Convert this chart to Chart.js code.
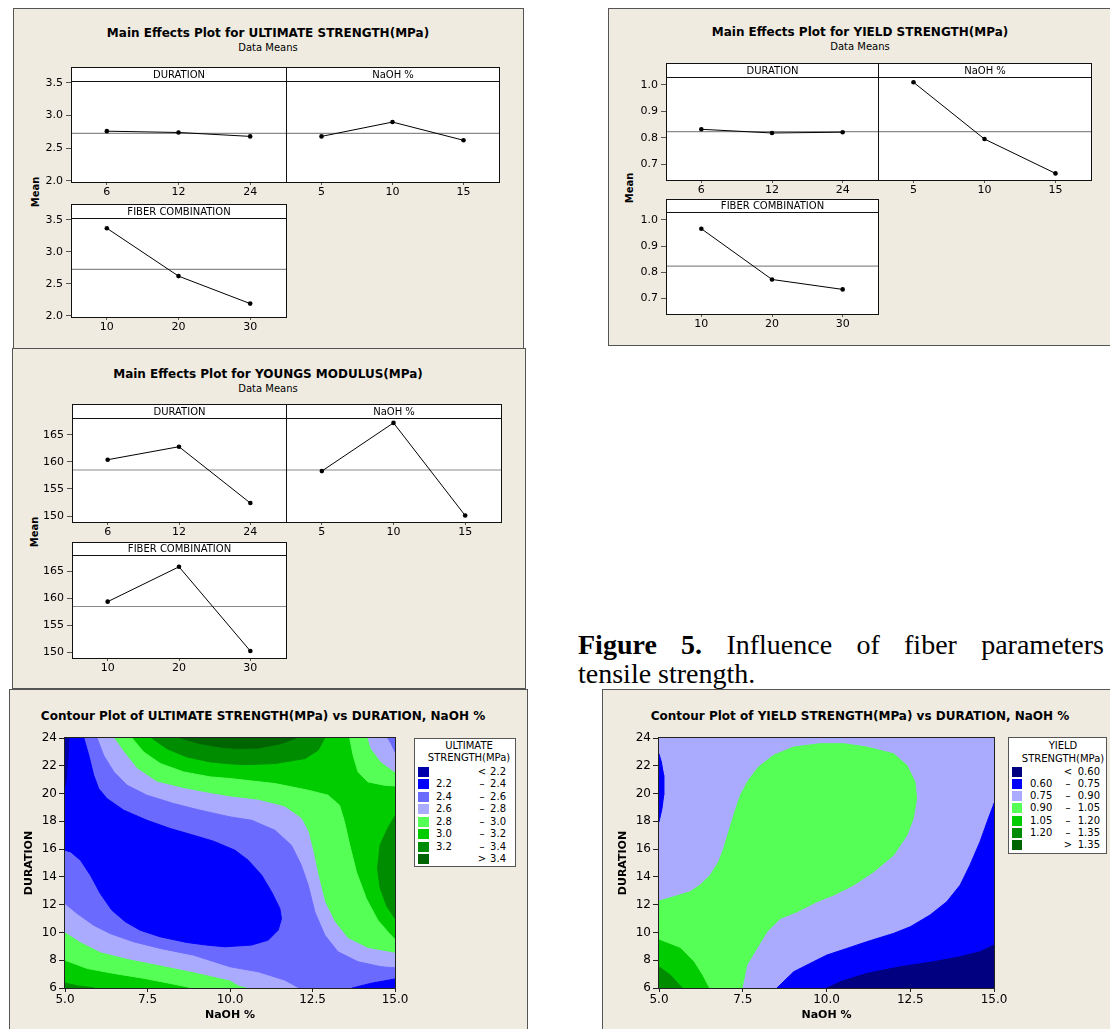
<!DOCTYPE html>
<html>
<head>
<meta charset="utf-8">
<script src="https://cdn.jsdelivr.net/npm/chart.js@4.4.1/dist/chart.umd.min.js"></script>
<style>
  body { margin: 0; width: 1110px; height: 1029px; position: relative; overflow: hidden; background: #fff;
         font-family: "DejaVu Sans", Verdana, sans-serif; color: #000; }
  .panel { position: absolute; background: #EFEBE1; border: 1px solid #555; box-sizing: border-box; }
  .ttl { position: absolute; font-size: 12px; line-height: 14px; font-weight: bold; white-space: nowrap; transform: translateX(-50%); }
  .sub { position: absolute; font-size: 10px; line-height: 12px; white-space: nowrap; transform: translateX(-50%); }
  .ylab { position: absolute; font-size: 10px; line-height: 12px; font-weight: bold; white-space: nowrap;
          transform: translate(-50%, -50%) rotate(-90deg); }
  .legend { position: absolute; background: #fff; border: 1px solid #555; box-sizing: border-box; font-size: 10px; }
  .legend div { position: absolute; line-height: 12px; white-space: nowrap; }
  .cap { position: absolute; font-family: "Liberation Serif", "Times New Roman", serif; font-size: 28px; line-height: 32px; white-space: nowrap; }
</style>
</head>
<body>
<script>
// main effects: level labels
const durationLevels = ['6', '12', '24'];
const naohLevels = ['5', '10', '15'];
const fiberLevels = ['10', '20', '30'];

// ultimate strength means
const ultDuration = [2.76, 2.74, 2.68];
const ultNaoh = [2.68, 2.90, 2.62];
const ultFiber = [3.37, 2.62, 2.19];
const ultMean = 2.727;
const ultTicks = [2.0, 2.5, 3.0, 3.5];

// yield strength means
const yldDuration = [0.832, 0.818, 0.821];
const yldNaoh = [1.01, 0.795, 0.665];
const yldFiber = [0.966, 0.772, 0.734];
const yldMean = 0.823;
const yldTicks = [0.7, 0.8, 0.9, 1.0];

// youngs modulus means
const ymDuration = [160.4, 162.8, 152.4];
const ymNaoh = [158.3, 167.2, 150.1];
const ymFiber = [159.4, 165.9, 150.2];
const ymMean = 158.5;
const ymTicks = [150, 155, 160, 165];

// contour axes
const naohTicks = [5, 7.5, 10, 12.5, 15];
const durTicks = [6, 8, 10, 12, 14, 16, 18, 20, 22, 24];
const plotRect = [[5, 6], [15, 6], [15, 24], [5, 24]];

// ultimate strength contour levels and regions (NaOH %, DURATION)
const ultLevels = [2.2, 2.4, 2.6, 2.8, 3.0, 3.2, 3.4];
const ultTopHigh = [[7.63, 24], [8.09, 23.23], [8.69, 22.64], [9.4, 22.28], [10.0, 22.14], [10.45, 22.08], [11.36, 22.16], [12.27, 22.52], [12.67, 23.12], [12.87, 24]];
const ultTopPeak = [[8.49, 24], [9.09, 23.6], [9.7, 23.35], [10.2, 23.25], [10.86, 23.28], [11.56, 23.6], [12.01, 24]];
const ultRightHigh = [[15, 18.4], [14.78, 17.5], [14.55, 16.3], [14.47, 14.6], [14.55, 13.2], [14.75, 11.9], [15, 11.0]];
const ultCornerHigh = [[5, 6], [5, 6.35], [5.4, 6.15], [5.9, 6]];
const ultBelow30 = [[5, 24], [7.03, 24], [7.38, 23.0], [7.89, 22.16], [8.59, 21.56], [9.4, 21.2], [10.0, 21.08], [11.36, 20.72], [12.37, 20.24], [12.97, 19.88], [13.32, 19.16], [13.47, 17.96], [13.63, 16.28], [13.83, 14.36], [14.13, 12.44], [14.48, 10.88], [14.83, 9.92], [15, 9.5], [15, 6], [8.8, 6], [8.69, 6.09], [8.19, 6.33], [7.38, 6.7], [6.48, 7.05], [5.67, 7.41], [5, 8.0]];
const ultCorner30 = [[13.63, 24], [13.73, 22.76], [13.88, 21.56], [14.18, 20.84], [14.68, 20.6], [15, 20.55], [15, 24]];
const ultBelow28 = [[5, 24], [6.48, 24], [6.78, 23.0], [7.18, 21.8], [7.78, 20.84], [8.59, 20.36], [9.4, 20.0], [10.0, 19.76], [10.86, 19.52], [11.66, 19.04], [12.16, 18.2], [12.37, 17.24], [12.52, 15.8], [12.67, 14.12], [12.87, 12.2], [13.17, 10.77], [13.57, 9.57], [14.18, 8.85], [15, 8.5], [15, 6], [10.6, 6], [10.25, 6.21], [10.0, 6.57], [8.89, 7.17], [7.89, 7.65], [6.88, 8.13], [6.07, 8.61], [5.47, 9.33], [5, 10.04]];
const ultCorner28 = [[14.18, 24], [14.28, 23.23], [14.58, 22.28], [15, 21.56], [15, 24]];
const ultBelow26 = [[5, 24], [5.97, 24], [6.17, 22.76], [6.48, 21.56], [6.88, 20.6], [7.48, 19.88], [8.29, 19.28], [9.09, 18.8], [10.0, 18.32], [10.65, 18.08], [11.36, 17.36], [11.86, 16.28], [12.16, 14.84], [12.37, 13.4], [12.57, 11.48], [12.87, 9.81], [13.27, 8.61], [13.88, 7.89], [14.58, 7.53], [15, 7.45], [15, 6], [12.1, 6], [11.66, 6.57], [10.86, 7.17], [10.0, 7.53], [8.89, 8.37], [7.89, 8.85], [7.08, 9.33], [6.37, 9.92], [5.87, 10.52], [5.37, 11.36], [5, 12.08]];
const ultCorner26 = [[14.78, 24], [14.88, 23.6], [15, 23.0], [15, 24]];
const ultCore = [[5, 24], [5.57, 24], [5.72, 22.76], [5.87, 21.32], [6.02, 20.36], [6.27, 19.64], [6.78, 18.8], [7.48, 18.08], [8.19, 17.48], [8.89, 17.0], [9.5, 16.57], [10.15, 15.92], [10.55, 15.2], [10.96, 14.12], [11.26, 12.92], [11.51, 11.72], [11.56, 11.0], [11.46, 10.17], [11.16, 9.45], [10.65, 9.09], [9.85, 8.97], [9.29, 9.09], [8.69, 9.28], [7.88, 9.69], [7.28, 10.16], [6.83, 10.77], [6.42, 11.6], [6.07, 12.8], [5.77, 14.12], [5.47, 15.2], [5.17, 15.8], [5, 15.92]];
const ultCornerLow = [[13.7, 6], [14.3, 6.35], [15, 6.65], [15, 6]];
const ultLowest = [[5, 24], [5.12, 24], [5.09, 22.5], [5.04, 21.0], [5, 20.5]];

// yield strength contour levels and regions
const yldLevels = [0.60, 0.75, 0.90, 1.05, 1.20, 1.35];
const yldGreen = [[5, 12.26], [5.44, 12.57], [5.93, 12.93], [6.23, 13.41], [6.53, 14.12], [6.78, 15.08], [6.93, 16.04], [7.08, 17.24], [7.23, 18.44], [7.43, 19.88], [7.67, 20.96], [7.97, 21.91], [8.42, 22.75], [9.02, 23.35], [9.81, 23.59], [10.51, 23.59], [11.2, 23.35], [12.0, 22.87], [12.4, 22.03], [12.64, 20.84], [12.69, 19.64], [12.59, 18.2], [12.4, 17.0], [12.0, 15.56], [11.4, 14.36], [10.81, 13.41], [10.21, 12.69], [9.71, 12.21], [9.12, 11.49], [8.62, 11.01], [8.22, 10.05], [7.92, 8.85], [7.62, 7.65], [7.48, 6], [5, 6]];
const yldGreen105 = [[5, 9.45], [5.64, 8.85], [6.03, 7.89], [6.28, 6.93], [6.48, 6], [5, 6]];
const yldGreen120 = [[5, 7.53], [5.34, 6.93], [5.69, 6], [5, 6]];
const yldBlueLeft = [[5, 22.87], [5.07, 22.27], [5.14, 21.32], [5.14, 19.88], [5.09, 18.92], [5, 17.96]];
const yldBlueRight = [[8.52, 6], [9.02, 7.17], [9.61, 7.89], [10.01, 8.37], [10.61, 8.85], [11.2, 9.33], [12.0, 9.93], [12.5, 10.41], [13.09, 11.25], [13.59, 12.21], [13.99, 13.41], [14.28, 14.84], [14.58, 16.52], [14.83, 18.2], [15, 19.28], [15, 6]];
const yldLowest = [[10.01, 6], [10.41, 6.45], [11.2, 7.05], [12.2, 7.53], [13.19, 7.89], [13.99, 8.25], [14.58, 8.61], [15, 9.09], [15, 6]];

// palettes
const ultColors = ['#0000AA', '#0000FF', '#6A6AFF', '#AAAAFF', '#55FF55', '#00CC00', '#008C00', '#006400'];
const yldColors = ['#000080', '#0000FF', '#AAAAFF', '#55FF55', '#00CC00', '#008C00', '#006400'];

const FONT = '"DejaVu Sans", Verdana, sans-serif';
Chart.defaults.font.family = FONT;
Chart.defaults.color = '#000';

function addEl(cls, html, css) {
  const d = document.createElement('div');
  d.className = cls;
  d.innerHTML = html;
  d.style.cssText = css;
  document.body.appendChild(d);
  return d;
}

function addCanvas(left, top, w, h) {
  const c = document.createElement('canvas');
  c.width = w; c.height = h;
  c.style.cssText = `position:absolute;left:${left}px;top:${top}px;width:${w}px;height:${h}px`;
  document.body.appendChild(c);
  return c;
}

// white plot box + header strip, like the minitab panels
const facetFrame = {
  id: 'facetFrame',
  beforeDraw(chart, args, o) {
    const { ctx, chartArea: a } = chart;
    ctx.save();
    ctx.fillStyle = '#fff';
    ctx.fillRect(a.left, a.top - o.strip, a.right - a.left + 1, a.bottom - a.top + o.strip + 1);
    ctx.restore();
  },
  afterDraw(chart, args, o) {
    const { ctx, chartArea: a } = chart;
    ctx.save();
    ctx.strokeStyle = '#111';
    ctx.lineWidth = 1;
    ctx.strokeRect(a.left + 0.5, a.top - o.strip + 0.5, a.right - a.left, a.bottom - a.top + o.strip);
    ctx.beginPath();
    ctx.moveTo(a.left, a.top + 0.5);
    ctx.lineTo(a.right + 1, a.top + 0.5);
    ctx.stroke();
    ctx.fillStyle = '#000';
    ctx.font = '10px ' + FONT;
    ctx.textAlign = 'center';
    ctx.textBaseline = 'middle';
    ctx.fillText(o.text, (a.left + a.right) / 2 + 0.5, a.top - o.strip / 2 + 1);
    ctx.restore();
  }
};

const contourFrame = {
  id: 'contourFrame',
  afterDatasetsDraw(chart) {
    const { ctx, chartArea: a } = chart;
    ctx.save();
    ctx.strokeStyle = '#222';
    ctx.lineWidth = 1;
    ctx.strokeRect(a.left - 0.5, a.top - 0.5, a.right - a.left + 1, a.bottom - a.top + 1);
    ctx.restore();
  }
};

function facet(p) {
  const AX = 40, XH = 20, PAD = 4;
  const w = p.right - p.left, sh = p.stripBottom - p.stripTop, ph = p.bottom - p.stripBottom;
  const cv = addCanvas(p.left - AX, p.stripTop, AX + w + PAD, sh + ph + XH);
  const n = p.cats.length;
  new Chart(cv, {
    type: 'line',
    data: {
      datasets: [
        { data: p.values.map((v, i) => ({ x: i, y: v })), borderColor: '#000', borderWidth: 1,
          pointRadius: 2.3, pointBackgroundColor: '#000', pointBorderWidth: 0, order: 0 },
        { data: [{ x: -0.5, y: p.mean }, { x: n - 0.5, y: p.mean }], borderColor: '#8a8a8a',
          borderWidth: 1.2, pointRadius: 0, order: 1 }
      ]
    },
    options: {
      responsive: false, animation: false, events: [],
      layout: { padding: { top: sh, right: PAD } },
      plugins: { legend: { display: false }, tooltip: { enabled: false }, facetFrame: { strip: sh, text: p.label } },
      scales: {
        x: {
          type: 'linear', min: -0.5, max: n - 0.5,
          afterBuildTicks: s => { s.ticks = p.cats.map((c, i) => ({ value: i })); },
          ticks: { callback: v => p.cats[v], font: { size: 11 }, padding: 1, maxRotation: 0, autoSkip: false },
          grid: { drawOnChartArea: false, tickLength: 3, color: '#555' },
          border: { display: false },
          afterFit: s => { s.height = XH; }
        },
        y: {
          min: p.yMin, max: p.yMax,
          afterBuildTicks: s => { s.ticks = p.yTicks.map(v => ({ value: v })); },
          ticks: { display: p.showY, callback: v => v.toFixed(p.dec), font: { size: 11 }, padding: 3 },
          grid: { display: p.showY, drawOnChartArea: false, tickLength: 5, color: '#555' },
          border: { display: false },
          afterFit: s => { s.width = AX; }
        }
      }
    },
    plugins: [facetFrame]
  });
}

function mainEffects(cfg) {
  addEl('panel', '', `left:${cfg.box[0]}px;top:${cfg.box[1]}px;width:${cfg.box[2]}px;height:${cfg.box[3]}px`);
  addEl('ttl', cfg.title, `left:${cfg.cx}px;top:${cfg.titleTop}px`);
  addEl('sub', 'Data Means', `left:${cfg.cx}px;top:${cfg.titleTop + 16}px`);
  addEl('ylab', 'Mean', `left:${cfg.mean[0]}px;top:${cfg.mean[1]}px`);
  const common = { yMin: cfg.yMin, yMax: cfg.yMax, yTicks: cfg.yTicks, dec: cfg.dec, mean: cfg.grand };
  const [r1, r2] = cfg.rows;
  facet({ ...common, ...r1, left: cfg.cols[0], right: cfg.cols[1], label: 'DURATION', cats: durationLevels, values: cfg.vals[0], showY: true });
  facet({ ...common, ...r1, left: cfg.cols[1], right: cfg.cols[2], label: 'NaOH %', cats: naohLevels, values: cfg.vals[1], showY: false });
  facet({ ...common, ...r2, left: cfg.cols[0], right: cfg.cols[1], label: 'FIBER COMBINATION', cats: fiberLevels, values: cfg.vals[2], showY: true });
}

function contour(cfg) {
  addEl('panel', '', `left:${cfg.box[0]}px;top:${cfg.box[1]}px;width:${cfg.box[2]}px;height:${cfg.box[3]}px`);
  addEl('ttl', cfg.title, `left:${cfg.cx}px;top:${cfg.titleTop}px`);
  const AX = 42, XH = 34, PT = 10, PR = 16;
  const p = cfg.plot;
  const cv = addCanvas(p.left - AX, p.top - PT, AX + (p.right - p.left) + PR, PT + (p.bottom - p.top) + XH);
  const n = cfg.layers.length;
  new Chart(cv, {
    type: 'line',
    data: {
      datasets: cfg.layers.map((L, i) => ({
        data: L[0].map(([x, y]) => ({ x, y })),
        fill: 'shape', backgroundColor: cfg.colors[L[1]], borderColor: cfg.colors[L[1]],
        borderWidth: 1, pointRadius: 0, tension: 0, order: n - i
      }))
    },
    options: {
      responsive: false, animation: false, events: [],
      layout: { padding: { top: PT, right: PR } },
      plugins: { legend: { display: false }, tooltip: { enabled: false } },
      scales: {
        x: {
          type: 'linear', min: 5, max: 15,
          afterBuildTicks: s => { s.ticks = naohTicks.map(v => ({ value: v })); },
          ticks: { callback: v => v.toFixed(1), font: { size: 12 }, padding: 1, maxRotation: 0, autoSkip: false },
          grid: { drawOnChartArea: false, tickLength: 4, color: '#222' },
          border: { display: false },
          title: { display: true, text: 'NaOH %', font: { size: 11, weight: 'bold' }, padding: 0 },
          afterFit: s => { s.height = XH; }
        },
        y: {
          min: 6, max: 24,
          afterBuildTicks: s => { s.ticks = durTicks.map(v => ({ value: v })); },
          ticks: { font: { size: 12 }, padding: 2, autoSkip: false },
          grid: { drawOnChartArea: false, tickLength: 6, color: '#222' },
          border: { display: false },
          title: { display: true, text: 'DURATION', font: { size: 11, weight: 'bold' }, padding: 0 },
          afterFit: s => { s.width = AX; }
        }
      }
    },
    plugins: [contourFrame]
  });

  // legend box
  const g = cfg.legend;
  const lg = addEl('legend', '', `left:${g.box[0]}px;top:${g.box[1]}px;width:${g.box[2]}px;height:${g.box[3]}px`);
  let html = '';
  g.title.forEach((t, i) => {
    html += `<div style="left:${g.titleShift}px;right:0;text-align:center;top:${g.titleTops[i]}px">${t}</div>`;
  });
  const lv = cfg.levels, cols = cfg.colors;
  cols.forEach((c, i) => {
    const cy = g.row0 + i * g.rowGap;
    const lo = (i === 0 || i === cols.length - 1) ? '' : lv[i - 1].toFixed(g.dec);
    const sym = i === 0 ? '&lt;' : (i === cols.length - 1 ? '&gt;' : '–');
    const hi = i === cols.length - 1 ? lv[lv.length - 1].toFixed(g.dec) : lv[i].toFixed(g.dec);
    html += `<div style="left:3px;top:${cy - 5}px;width:${g.sw}px;height:10px;background:${c}"></div>`;
    html += `<div style="left:21px;top:${cy - 6}px">${lo}</div>`;
    html += `<div style="left:${g.symX - 10}px;width:20px;text-align:center;top:${cy - 6}px">${sym}</div>`;
    html += `<div style="right:${g.hiRight}px;top:${cy - 6}px">${hi}</div>`;
  });
  lg.innerHTML = html;
}

mainEffects({
  box: [13, 8, 511, 341], cx: 268, titleTop: 26, mean: [36, 192],
  title: 'Main Effects Plot for ULTIMATE STRENGTH(MPa)',
  cols: [71, 286, 499],
  rows: [{ stripTop: 67, stripBottom: 81, bottom: 182 }, { stripTop: 204, stripBottom: 218, bottom: 317 }],
  yMin: 1.98, yMax: 3.53, yTicks: ultTicks, dec: 1, grand: ultMean,
  vals: [ultDuration, ultNaoh, ultFiber]
});

mainEffects({
  box: [608, 8, 505, 338], cx: 860, titleTop: 25, mean: [630, 188],
  title: 'Main Effects Plot for YIELD STRENGTH(MPa)',
  cols: [666, 878, 1091],
  rows: [{ stripTop: 63, stripBottom: 77, bottom: 180 }, { stripTop: 199, stripBottom: 212, bottom: 314 }],
  yMin: 0.64, yMax: 1.03, yTicks: yldTicks, dec: 1, grand: yldMean,
  vals: [yldDuration, yldNaoh, yldFiber]
});

mainEffects({
  box: [12, 348, 514, 341], cx: 268, titleTop: 367, mean: [35, 532],
  title: 'Main Effects Plot for YOUNGS MODULUS(MPa)',
  cols: [72, 286, 501],
  rows: [{ stripTop: 404, stripBottom: 418, bottom: 522 }, { stripTop: 542, stripBottom: 555, bottom: 658 }],
  yMin: 148.9, yMax: 168.1, yTicks: ymTicks, dec: 0, grand: ymMean,
  vals: [ymDuration, ymNaoh, ymFiber]
});

contour({
  box: [9, 689, 519, 345], cx: 263, titleTop: 709,
  title: 'Contour Plot of ULTIMATE STRENGTH(MPa) vs DURATION, NaOH %',
  plot: { left: 65, right: 395, top: 738, bottom: 988 },
  levels: ultLevels, colors: ultColors,
  layers: [
    [plotRect, 5], [ultTopHigh, 6], [ultTopPeak, 7], [ultRightHigh, 6], [ultCornerHigh, 6],
    [ultBelow30, 4], [ultCorner30, 4], [ultBelow28, 3], [ultCorner28, 3],
    [ultBelow26, 2], [ultCorner26, 2], [ultCore, 1], [ultCornerLow, 1], [ultLowest, 0]
  ],
  legend: { box: [414, 738, 102, 129], title: ['ULTIMATE', 'STRENGTH(MPa)'], titleTops: [1, 13], titleShift: 8,
            row0: 32.7, rowGap: 12.5, sw: 11, symX: 67, hiRight: 9, dec: 1 }
});

contour({
  box: [602, 689, 512, 345], cx: 860, titleTop: 709,
  title: 'Contour Plot of YIELD STRENGTH(MPa) vs DURATION, NaOH %',
  plot: { left: 659, right: 994, top: 738, bottom: 988 },
  levels: yldLevels, colors: yldColors,
  layers: [
    [plotRect, 2], [yldGreen, 3], [yldGreen105, 4], [yldGreen120, 5],
    [yldBlueLeft, 1], [yldBlueRight, 1], [yldLowest, 0]
  ],
  legend: { box: [1008, 737, 99, 117], title: ['YIELD', 'STRENGTH(MPa)'], titleTops: [1.7, 15], titleShift: 11,
            row0: 33.7, rowGap: 12.2, sw: 10, symX: 59, hiRight: 6, dec: 2 }
});

// caption text beside the figure
addEl('cap', '<b>Figure 5.</b> Influence of fiber parameters',
  'left:578px;top:629px;width:526px;text-align:justify;text-align-last:justify;white-space:normal');
addEl('cap', 'tensile strength.', 'left:578px;top:658px');
</script>
</body>
</html>
